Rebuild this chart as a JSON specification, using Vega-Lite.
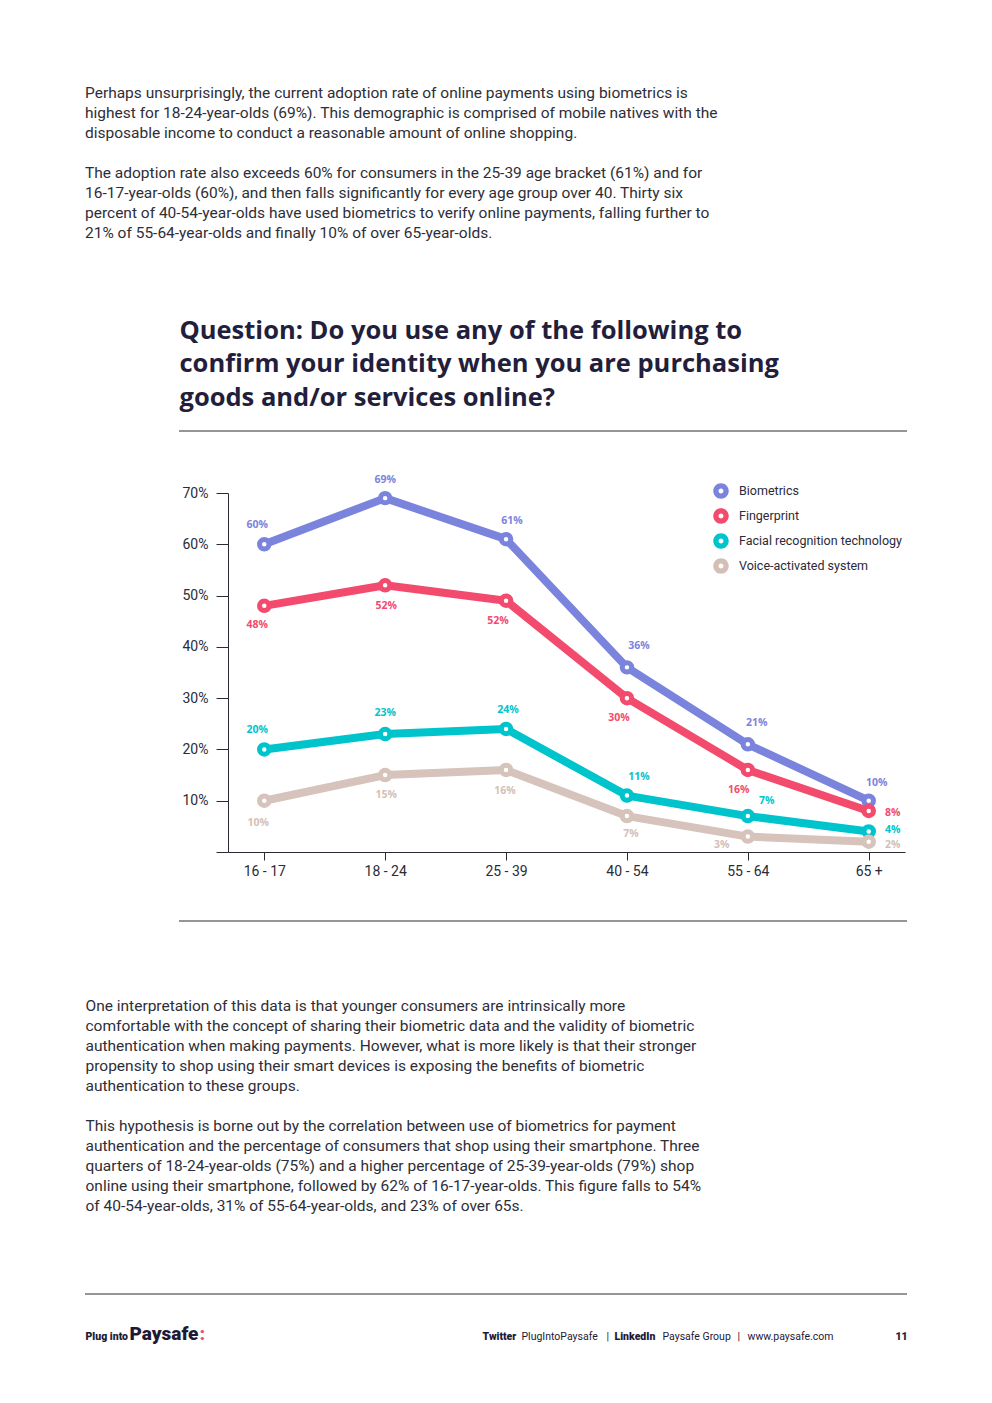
{
  "$schema": "https://vega.github.io/schema/vega-lite/v6.json",
  "width": 728,
  "height": 490,
  "autosize": {"type": "none"},
  "padding": {"left": 179, "top": 431, "right": 85, "bottom": 482},
  "background": "white",
  "config": {"view": {"stroke": null}, "axis": {"grid": false}},
  "title": {
    "text": [
      "Perhaps unsurprisingly, the current adoption rate of online payments using biometrics is",
      "highest for 18-24-year-olds (69%). This demographic is comprised of mobile natives with the",
      "disposable income to conduct a reasonable amount of online shopping."
    ],
    "subtitle": [
      "The adoption rate also exceeds 60% for consumers in the 25-39 age bracket (61%) and for",
      "16-17-year-olds (60%), and then falls significantly for every age group over 40. Thirty six",
      "percent of 40-54-year-olds have used biometrics to verify online payments, falling further to",
      "21% of 55-64-year-olds and finally 10% of over 65-year-olds."
    ],
    "anchor": "start",
    "frame": "group",
    "dx": -94,
    "offset": 77,
    "font": "Roboto",
    "fontSize": 15.5,
    "fontWeight": "normal",
    "color": "#2e2e38",
    "lineHeight": 20,
    "subtitleFont": "Roboto",
    "subtitleFontSize": 15.5,
    "subtitleFontWeight": "normal",
    "subtitleColor": "#2e2e38",
    "subtitleLineHeight": 20,
    "subtitlePadding": 24
  },
  "layer": [
    {
      "data": {
        "values": [
          {"series": "Biometrics", "age": "16 - 17", "value": 60, "label": "60%"},
          {"series": "Biometrics", "age": "18 - 24", "value": 69, "label": "69%"},
          {"series": "Biometrics", "age": "25 - 39", "value": 61, "label": "61%"},
          {"series": "Biometrics", "age": "40 - 54", "value": 36, "label": "36%"},
          {"series": "Biometrics", "age": "55 - 64", "value": 21, "label": "21%"},
          {"series": "Biometrics", "age": "65 +", "value": 10, "label": "10%"},
          {"series": "Fingerprint", "age": "16 - 17", "value": 48, "label": "48%"},
          {"series": "Fingerprint", "age": "18 - 24", "value": 52, "label": "52%"},
          {"series": "Fingerprint", "age": "25 - 39", "value": 49, "label": "52%"},
          {"series": "Fingerprint", "age": "40 - 54", "value": 30, "label": "30%"},
          {"series": "Fingerprint", "age": "55 - 64", "value": 16, "label": "16%"},
          {"series": "Fingerprint", "age": "65 +", "value": 8, "label": "8%"},
          {"series": "Facial recognition technology", "age": "16 - 17", "value": 20, "label": "20%"},
          {"series": "Facial recognition technology", "age": "18 - 24", "value": 23, "label": "23%"},
          {"series": "Facial recognition technology", "age": "25 - 39", "value": 24, "label": "24%"},
          {"series": "Facial recognition technology", "age": "40 - 54", "value": 11, "label": "11%"},
          {"series": "Facial recognition technology", "age": "55 - 64", "value": 7, "label": "7%"},
          {"series": "Facial recognition technology", "age": "65 +", "value": 4, "label": "4%"},
          {"series": "Voice-activated system", "age": "16 - 17", "value": 10, "label": "10%"},
          {"series": "Voice-activated system", "age": "18 - 24", "value": 15, "label": "15%"},
          {"series": "Voice-activated system", "age": "25 - 39", "value": 16, "label": "16%"},
          {"series": "Voice-activated system", "age": "40 - 54", "value": 7, "label": "7%"},
          {"series": "Voice-activated system", "age": "55 - 64", "value": 3, "label": "3%"},
          {"series": "Voice-activated system", "age": "65 +", "value": 2, "label": "2%"}
        ]
      },
      "layer": [
        {
          "mark": {"type": "line", "strokeJoin": "round", "strokeCap": "round"},
          "encoding": {
            "x": {
              "field": "age", "type": "ordinal",
              "scale": {"type": "point", "domain": ["16 - 17", "18 - 24", "25 - 39", "40 - 54", "55 - 64", "65 +"], "range": [49, 726], "padding": 0.3},
              "axis": {
                "orient": "bottom", "offset": -69, "labelAngle": 0,
                "domainColor": "#2a2a35", "tickColor": "#2a2a35", "tickSize": 8,
                "labelFont": "Roboto", "labelFontSize": 14, "labelColor": "#2b2b38", "labelPadding": 4,
                "title": [
                  "One interpretation of this data is that younger consumers are intrinsically more",
                  "comfortable with the concept of sharing their biometric data and the validity of biometric",
                  "authentication when making payments. However, what is more likely is that their stronger",
                  "propensity to shop using their smart devices is exposing the benefits of biometric",
                  "authentication to these groups."
                ],
                "titleX": -94, "titleY": 158, "titleAlign": "left", "titleBaseline": "alphabetic", "titleAngle": 0,
                "titleFont": "Roboto", "titleFontSize": 15.5, "titleFontWeight": "normal", "titleColor": "#2e2e38", "titleLineHeight": 20
              }
            },
            "y": {
              "field": "value", "type": "quantitative",
              "scale": {"domain": [0, 70], "range": [421, 62], "nice": false, "zero": false},
              "axis": {
                "orient": "left", "offset": -49, "values": [0, 10, 20, 30, 40, 50, 60, 70],
                "labelExpr": "datum.value == 0 ? '' : datum.value + '%'",
                "domainColor": "#2a2a35", "tickColor": "#2a2a35", "tickSize": 12,
                "labelFont": "Roboto", "labelFontSize": 14, "labelColor": "#2b2b38", "labelPadding": 8,
                "title": null
              }
            },
            "stroke": {
              "field": "series", "type": "nominal",
              "scale": {"domain": ["Biometrics", "Fingerprint", "Facial recognition technology", "Voice-activated system"], "range": ["#7b84dd", "#f24b6e", "#00c4cc", "#d6c3bb"]},
              "legend": {
                "orient": "none", "legendX": 534, "legendY": 52, "title": null,
                "symbolType": "M -1 0 A 1 1 0 1 0 1 0 A 1 1 0 1 0 -1 0 Z M -0.32 0 A 0.32 0.32 0 1 1 0.32 0 A 0.32 0.32 0 1 1 -0.32 0 Z",
                "symbolSize": 240, "symbolStrokeWidth": 0,
                "labelFont": "Roboto", "labelFontSize": 12.5, "labelColor": "#2b2b38", "labelOffset": 10, "labelLimit": 400,
                "rowPadding": 9, "clipHeight": 16, "padding": 0
              }
            },
            "strokeWidth": {"value": 8}
          }
        },
        {
          "mark": {"type": "point", "filled": true, "fill": "white", "fillOpacity": 1, "size": 90, "opacity": 1},
          "encoding": {
            "x": {"field": "age", "type": "ordinal"},
            "y": {"field": "value", "type": "quantitative"},
            "stroke": {"field": "series", "type": "nominal"},
            "strokeWidth": {"value": 5}
          }
        },
        {
          "mark": {
            "type": "text", "font": "Open Sans", "fontSize": 10.5, "fontWeight": "bold", "align": "center", "baseline": "middle",
            "dx": {"expr": "[[-7,0,6,12,9,8],[-7,1,-8,-8,-9,24],[-7,0,2,12,19,24],[-6,1,-1,4,-26,24]][indexof(['Biometrics','Fingerprint','Facial recognition technology','Voice-activated system'], datum.series)][indexof(['16 - 17','18 - 24','25 - 39','40 - 54','55 - 64','65 +'], datum.age)]"},
            "dy": {"expr": "[[-19,-18,-18,-21,-21,-18],[19,21,20,20,20,2],[-19,-21,-19,-19,-15,-1],[22,20,21,18,8,3]][indexof(['Biometrics','Fingerprint','Facial recognition technology','Voice-activated system'], datum.series)][indexof(['16 - 17','18 - 24','25 - 39','40 - 54','55 - 64','65 +'], datum.age)]"}
          },
          "encoding": {
            "x": {"field": "age", "type": "ordinal"},
            "y": {"field": "value", "type": "quantitative"},
            "color": {
              "field": "series", "type": "nominal",
              "scale": {"domain": ["Biometrics", "Fingerprint", "Facial recognition technology", "Voice-activated system"], "range": ["#7b84dd", "#f24b6e", "#00c4cc", "#d3bfb6"]},
              "legend": null
            },
            "text": {"field": "label"}
          }
        }
      ]
    },
    {
      "data": {"values": [{"separator": "above the chart"}, {"separator": "below the chart"}]},
      "mark": {"type": "rule", "color": "#2a2a35", "strokeWidth": 1},
      "encoding": {
        "y": {
          "field": "separator", "type": "nominal",
          "scale": {"type": "point", "domain": ["above the chart", "below the chart"], "range": [0, 490], "padding": 0},
          "axis": {
            "orient": "left", "labels": false, "ticks": false, "domain": false,
            "title": [
              "Question: Do you use any of the following to",
              "confirm your identity when you are purchasing",
              "goods and/or services online?"
            ],
            "titleX": 0, "titleY": -93, "titleAngle": 0, "titleAlign": "left", "titleBaseline": "alphabetic",
            "titleFont": "Open Sans", "titleFontSize": 25.5, "titleFontWeight": 700, "titleColor": "#221e3b", "titleLineHeight": 33.5
          }
        }
      }
    },
    {
      "data": {"values": [{"separator": "above the footer"}]},
      "mark": {"type": "rule", "color": "#2a2a35", "strokeWidth": 1},
      "encoding": {
        "x": {
          "datum": 85, "type": "quantitative",
          "scale": {"domain": [85, 907], "range": [-94, 728], "nice": false, "zero": false},
          "axis": {
            "orient": "bottom", "offset": 373, "domain": false, "ticks": false, "tickSize": 0,
            "values": [85, 129, 199, 482, 521, 606, 614, 662, 737, 747, 895],
            "labelExpr": "['Plug into','Paysafe',':','Twitter','PlugIntoPaysafe','|','LinkedIn','Paysafe Group','|','www.paysafe.com','11'][indexof([85,129,199,482,521,606,614,662,737,747,895], datum.value)]",
            "labelAlign": "left", "labelBaseline": "alphabetic", "labelPadding": 45,
            "labelFont": "Roboto",
            "labelFontSize": {"expr": "datum.value == 129 || datum.value == 199 ? 19 : 10.5"},
            "labelFontWeight": {"expr": "indexof([85,129,199,482,614,895], datum.value) >= 0 ? 900 : 'normal'"},
            "labelColor": {"expr": "datum.value == 199 ? '#f24b6e' : '#1e1a36'"},
            "labelOverlap": false, "labelBound": false, "labelFlush": false,
            "title": [
              "This hypothesis is borne out by the correlation between use of biometrics for payment",
              "authentication and the percentage of consumers that shop using their smartphone. Three",
              "quarters of 18-24-year-olds (75%) and a higher percentage of 25-39-year-olds (79%) shop",
              "online using their smartphone, followed by 62% of 16-17-year-olds. This figure falls to 54%",
              "of 40-54-year-olds, 31% of 55-64-year-olds, and 23% of over 65s."
            ],
            "titleX": -94, "titleY": -164, "titleAlign": "left", "titleBaseline": "alphabetic", "titleAngle": 0,
            "titleFont": "Roboto", "titleFontSize": 15.5, "titleFontWeight": "normal", "titleColor": "#2e2e38", "titleLineHeight": 20
          }
        },
        "x2": {"datum": 907},
        "y": {
          "field": "separator", "type": "nominal",
          "scale": {"type": "point", "domain": ["above the footer"], "range": [863, 863], "padding": 0},
          "axis": null
        }
      }
    }
  ],
  "resolve": {"scale": {"x": "independent", "y": "independent", "color": "independent", "stroke": "independent"}}
}
